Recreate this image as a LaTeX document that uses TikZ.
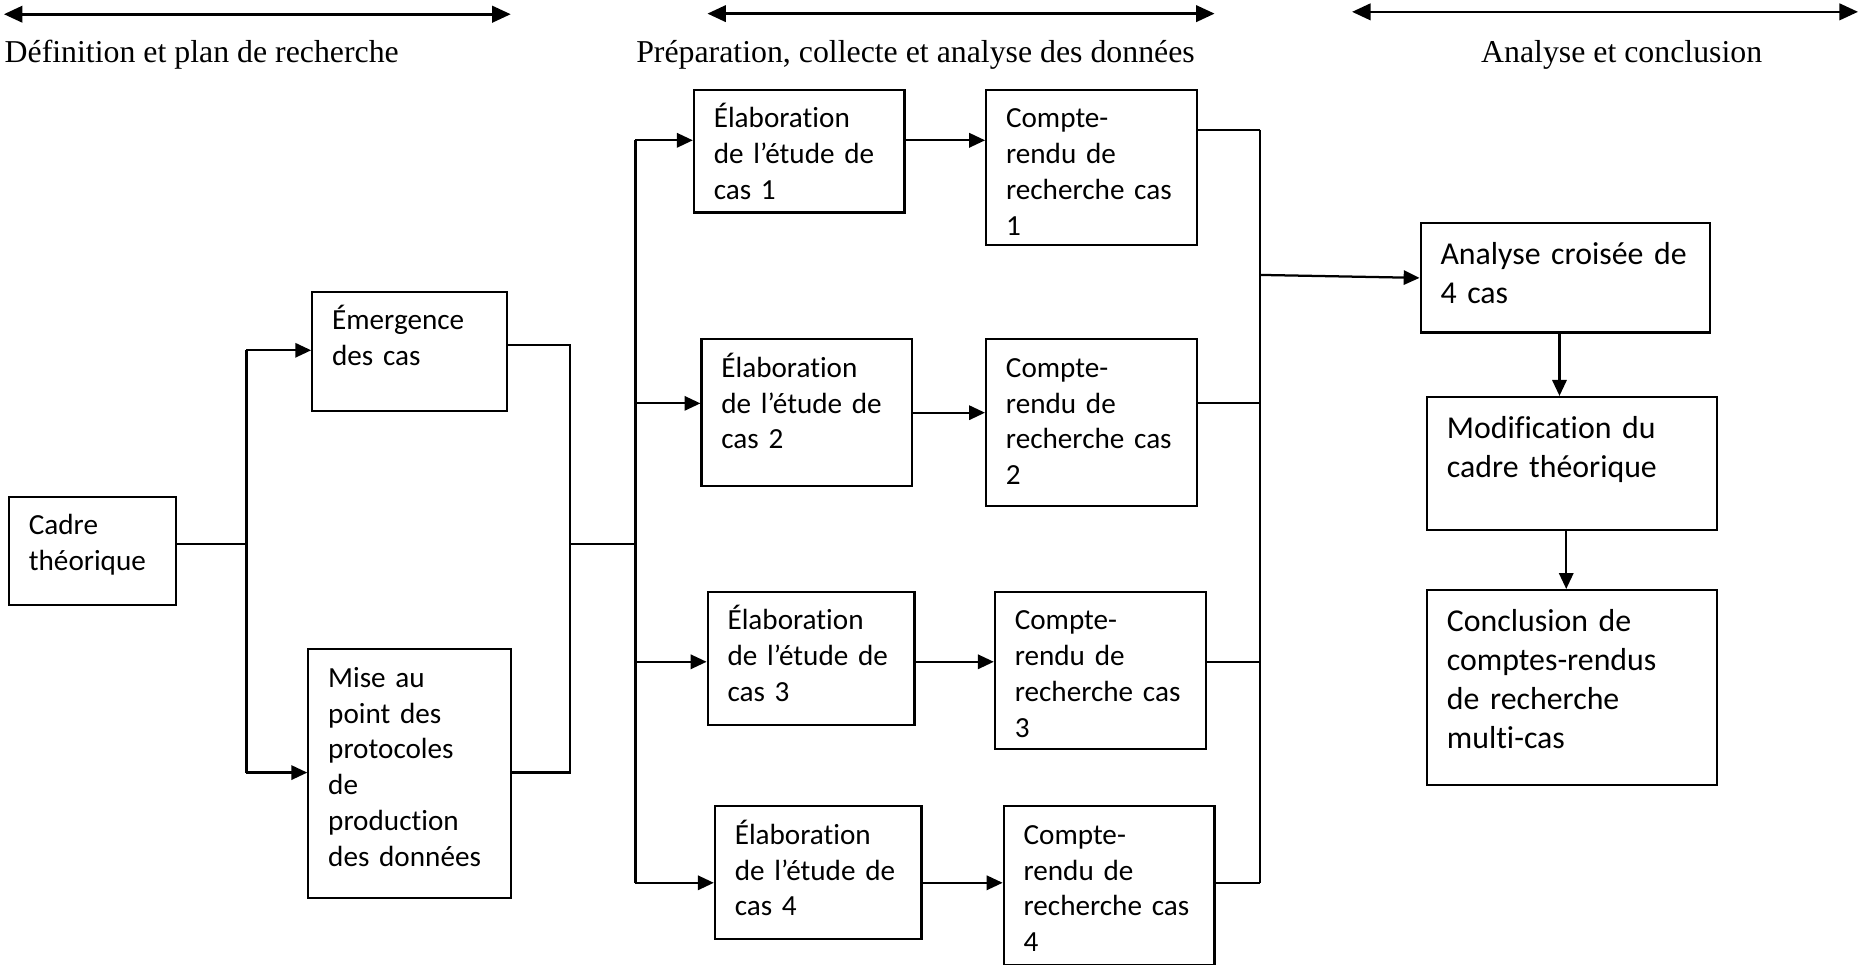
\documentclass[tikz,border=0pt]{standalone}
\usepackage{fontspec}
\setmainfont{Liberation Serif}
\newfontfamily\boxfont{Carlito}[Ligatures=NoCommon]
\usepackage{tikz}
\usetikzlibrary{arrows.meta,positioning}

\begin{document}
\begin{tikzpicture}[x=0.4468pt,y=-0.4468pt,>={Triangle[length=6pt,width=5.4pt]},line width=0.85pt]

	\tikzstyle{box}=[rectangle,draw=black,line width=0.8pt,anchor=north west,align=left,inner xsep=7.5pt,inner ysep=0pt,text height=14.3pt,font=\boxfont\fontsize{11}{13.5}\selectfont]
	\tikzstyle{bigbox}=[box,text height=15.5pt,font=\boxfont\fontsize{12}{14.8}\selectfont]
	\tikzstyle{phasetitle}=[anchor=base west,inner sep=0pt,font=\fontsize{12}{14}\selectfont]
	\tikzstyle{phasespan}=[{Triangle[length=7pt,width=6.2pt]}-{Triangle[length=7pt,width=6.2pt]},line width=1pt]

	\useasboundingbox (0,0) rectangle (1568,814);

	\coordinate (s1a) at (3.3,12);
	\coordinate (s1b) at (431,12);
	\coordinate (s2a) at (597,11.5);
	\coordinate (s2b) at (1025,11.5);
	\coordinate (s3a) at (1141,10);
	\coordinate (s3b) at (1568,10);
	\draw[phasespan] (s1a) -- (s1b);
	\draw[phasespan] (s2a) -- (s2b);
	\draw[phasespan] (s3a) -- (s3b);

	\node[phasetitle] (h1) at (3,53) {Définition et plan de recherche};
	\node[phasetitle] (h2) at (536,53) {Préparation, collecte et analyse des données};
	\node[phasetitle] (h3) at (1249,53) {Analyse et conclusion};

	\node[box,text width=47.9pt,text depth=26.5pt] (ct) at (6.7,418.3) {Cadre\\théorique};
	\node[box,text width=58.4pt,text depth=30.7pt] (em) at (262.6,245.3) {Émergence\\des cas};
	\node[box,text width=61.4pt,text depth=79.5pt] (mp) at (259.3,547.1) {Mise au\\point des\\protocoles\\de\\production\\des données};

	\node[box,text width=64.4pt,text depth=31.9pt] (e1) at (584.7,75) {Élaboration\\de l’étude de\\cas 1};
	\node[box,text width=64.5pt,text depth=41pt] (e2) at (591.1,285.5) {Élaboration\\de l’étude de\\cas 2};
	\node[box,text width=63pt,text depth=35.8pt] (e3) at (596.3,498.5) {Élaboration\\de l’étude de\\cas 3};
	\node[box,text width=62.9pt,text depth=35.7pt] (e4) at (602.4,679.6) {Élaboration\\de l’étude de\\cas 4};

	\node[box,text width=64.5pt,text depth=44.2pt,right=30pt of e1.north east,anchor=north west] (cr1) {Compte-\\rendu de\\recherche cas\\1};
	\node[box,text width=64.5pt,text depth=48.5pt,right=27pt of e2.north east,anchor=north west] (cr2) {Compte-\\rendu de\\recherche cas\\2};
	\node[box,text width=64.7pt,text depth=44.9pt,right=29.5pt of e3.north east,anchor=north west] (cr3) {Compte-\\rendu de\\recherche cas\\3};
	\node[box,text width=64.5pt,text depth=45.5pt,right=30.2pt of e4.north east,anchor=north west] (cr4) {Compte-\\rendu de\\recherche cas\\4};

	\node[bigbox,text width=94.1pt,text depth=25.7pt] (an) at (1198,187.5) {Analyse croisée de\\4 cas};
	\node[bigbox,text width=94.2pt,text depth=34.5pt,below=23.5pt of an.south west,anchor=north west,xshift=2.4pt] (mo) {Modification du\\cadre théorique};
	\node[bigbox,text width=94.2pt,text depth=58pt,below=22pt of mo.south west,anchor=north west] (co) {Conclusion de\\comptes-rendus\\de recherche\\multi-cas};

	\coordinate (b1t) at (208,295.6);
	\coordinate (b1m) at (208,459);
	\coordinate (b1b) at (208,652);
	\draw (ct.east |- b1m) -- (b1m);
	\draw (b1t) -- (b1b);
	\draw[->] (b1t) -- (em.west |- b1t);
	\draw[->] (b1b) -- (mp.west |- b1b);

	\coordinate (b2t) at (481,291);
	\coordinate (b2m) at (481,459);
	\coordinate (b2b) at (481,652);
	\coordinate (b3m) at (536.3,459);
	\draw (em.east |- b2t) -- (b2t) -- (b2b) -- (mp.east |- b2b);
	\draw (b2m) -- (b3m);

	\coordinate (p1) at (536.3,118.4);
	\coordinate (p2) at (536.3,340.4);
	\coordinate (p3) at (536.3,558.5);
	\coordinate (p4) at (536.3,745);
	\draw (p1) -- (p4);
	\draw[->] (p1) -- (e1.west |- p1);
	\draw[->] (p2) -- (e2.west |- p2);
	\draw[->] (p3) -- (e3.west |- p3);
	\draw[->] (p4) -- (e4.west |- p4);

	\draw[->] (e1.east |- p1) -- (cr1.west |- p1);
	\draw[->] (e2.east) -- (cr2.west |- e2.east);
	\draw[->] (e3.east |- p3) -- (cr3.west |- p3);
	\draw[->] (e4.east |- p4) -- (cr4.west |- p4);

	\coordinate (q1) at (1063.2,109.7);
	\coordinate (q2) at (1063.2,340.4);
	\coordinate (q3) at (1063.2,558.5);
	\coordinate (q4) at (1063.2,745);
	\coordinate (qa) at (1063.2,232);
	\draw (cr1.east |- q1) -- (q1);
	\draw (cr2.east |- q2) -- (q2);
	\draw (cr3.east |- q3) -- (q3);
	\draw (cr4.east |- q4) -- (q4);
	\draw (q1) -- (q4);
	\draw[->] (qa) -- (an.west);

	\draw[->] ([xshift=-2.2pt]an.south) -- ([xshift=-2.2pt]an.south |- mo.north);
	\draw[->] ([xshift=-2.1pt]mo.south) -- ([xshift=-2.1pt]mo.south |- co.north);

\end{tikzpicture}
\end{document}
